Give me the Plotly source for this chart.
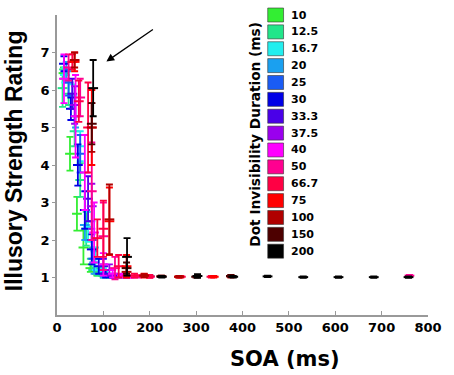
import plotly.graph_objects as go

# ---- data (approximate) ----
durations = ["10", "12.5", "16.7", "20", "25", "30", "33.3", "37.5", "40", "50", "66.7", "75", "100", "150", "200"]
colors = ["#33ee33", "#22e68a", "#22eeee", "#1aa0f0", "#1a5cf5", "#0000e6", "#4a00e8", "#9a00ee",
          "#ff00ff", "#ff0090", "#ff0044", "#ff0000", "#b00000", "#4d0000", "#000000"]

soa_10 = [14, 28, 43, 57, 72, 86, 100]
mean_10 = [6.45, 4.3, 2.7, 1.8, 1.25, 1.1, 1.05]
err_10 = [0.15, 0.45, 0.45, 0.45, 0.1, 0.05, 0.04]

soa_12_5 = [12, 25, 38, 50, 63, 75, 88, 100, 113]
mean_12_5 = [6.05, 5.9, 4.9, 3.6, 2.3, 1.5, 1.15, 1.05, 1.02]
err_12_5 = [0.5, 0.3, 0.4, 0.45, 0.45, 0.3, 0.1, 0.05, 0.03]

soa_16_7 = [17, 33, 50, 67, 83, 100, 117, 133, 200]
mean_16_7 = [6.4, 5.85, 4.5, 2.35, 1.5, 1.15, 1.05, 1.03, 1.04]
err_16_7 = [0.2, 0.3, 0.4, 0.4, 0.3, 0.1, 0.05, 0.03, 0.03]

soa_20 = [20, 40, 60, 80, 100, 120, 140]
mean_20 = [6.5, 5.3, 2.4, 1.4, 1.1, 1.04, 1.02]
err_20 = [0.25, 0.3, 0.4, 0.3, 0.1, 0.04, 0.03]

soa_25 = [25, 50, 75, 100, 125, 150]
mean_25 = [6.2, 4.3, 2.0, 1.2, 1.05, 1.02]
err_25 = [0.35, 0.5, 0.5, 0.15, 0.05, 0.03]

soa_30 = [15, 30, 45, 60, 75, 90, 105, 120]
mean_30 = [6.7, 5.5, 4.0, 2.8, 1.75, 1.3, 1.1, 1.03]
err_30 = [0.2, 0.3, 0.55, 0.5, 0.4, 0.2, 0.1, 0.03]

soa_33_3 = [33, 67, 100, 133]
mean_33_3 = [5.9, 3.1, 1.3, 1.05]
err_33_3 = [0.4, 0.6, 0.2, 0.04]

soa_37_5 = [38, 75, 113, 150]
mean_37_5 = [5.6, 2.9, 1.2, 1.03]
err_37_5 = [0.5, 0.6, 0.15, 0.03]

soa_40 = [15, 40, 60, 80, 100, 120, 140, 160]
mean_40 = [6.3, 5.3, 3.8, 2.2, 1.35, 1.1, 1.05, 1.02]
err_40 = [0.65, 1.1, 1.0, 0.8, 0.3, 0.1, 0.05, 0.03]

soa_50 = [25, 50, 75, 100, 125, 150, 175, 200, 760]
mean_50 = [6.6, 5.8, 3.3, 2.1, 1.25, 1.05, 1.03, 1.02, 1.05]
err_50 = [0.35, 0.5, 1.3, 0.9, 0.3, 0.05, 0.03, 0.02, 0.02]

soa_66_7 = [33, 47, 67, 87, 100, 133, 167, 200, 267, 333]
mean_66_7 = [6.75, 5.7, 5.0, 2.05, 2.3, 1.3, 1.05, 1.03, 1.02, 1.02]
err_66_7 = [0.2, 0.55, 1.2, 0.5, 0.75, 0.3, 0.05, 0.04, 0.02, 0.02]

soa_75 = [38, 75, 113, 150, 188, 263, 338]
mean_75 = [6.75, 5.0, 2.5, 1.3, 1.05, 1.02, 1.02]
err_75 = [0.25, 1.0, 0.9, 0.3, 0.05, 0.02, 0.02]

soa_100 = [38, 75, 113, 150, 188, 225, 263, 375]
mean_100 = [6.8, 5.0, 2.55, 1.15, 1.05, 1.03, 1.02, 1.03]
err_100 = [0.2, 0.65, 0.93, 0.1, 0.04, 0.02, 0.02, 0.03]

soa_150 = [75, 150, 225, 300, 375]
mean_150 = [5.1, 1.25, 1.03, 1.02, 1.04]
err_150 = [0.55, 0.15, 0.02, 0.02, 0.03]

soa_200 = [78, 151, 226, 303, 380, 454, 531, 607, 683, 758]
mean_200 = [6.05, 1.55, 1.02, 1.04, 1.02, 1.03, 1.01, 1.01, 1.01, 1.01]
err_200 = [0.75, 0.5, 0.02, 0.05, 0.02, 0.02, 0.02, 0.02, 0.02, 0.02]

x_ticks = [0, 100, 200, 300, 400, 500, 600, 700, 800]
y_ticks = [1, 2, 3, 4, 5, 6, 7]

series = [
    (soa_10, mean_10, err_10), (soa_12_5, mean_12_5, err_12_5), (soa_16_7, mean_16_7, err_16_7),
    (soa_20, mean_20, err_20), (soa_25, mean_25, err_25), (soa_30, mean_30, err_30),
    (soa_33_3, mean_33_3, err_33_3), (soa_37_5, mean_37_5, err_37_5), (soa_40, mean_40, err_40),
    (soa_50, mean_50, err_50), (soa_66_7, mean_66_7, err_66_7), (soa_75, mean_75, err_75),
    (soa_100, mean_100, err_100), (soa_150, mean_150, err_150), (soa_200, mean_200, err_200),
]

fig = go.Figure()
for name, col, (xs, ms, es) in zip(durations, colors, series):
    fig.add_trace(go.Scatter(
        x=xs, y=ms, mode="markers", name=name, showlegend=False,
        marker=dict(symbol="line-ew", size=7, color=col, line=dict(color=col, width=2)),
        error_y=dict(type="data", array=es, symmetric=True, color=col, thickness=1.8, width=3.5),
    ))

# ---- layout geometry (body margin removed by post_script) ----
W, H = 454, 375
PL, PR, PT, PB = 57, 432, 15, 315.5          # plot area in screen pixels
pw, ph = PR - PL, PB - PT

def px_to_paper(px, py):
    return (px - PL) / pw, 1 - (py - PT) / ph

tick_font = dict(family="DejaVu Sans", size=13, color="black")
shapes = []
annotations = []
row0, dy = 15, 16.9
for i, (name, col) in enumerate(zip(durations, colors)):
    cy = row0 + i * dy
    x0, y0 = px_to_paper(270, cy - 7)
    x1, y1 = px_to_paper(286, cy + 7)
    shapes.append(dict(type="rect", xref="paper", yref="paper", x0=x0, x1=x1, y0=y1, y1=y0,
                       fillcolor=col, line=dict(color="#333333", width=0.6)))
    lx, ly = px_to_paper(292, cy)
    annotations.append(dict(xref="paper", yref="paper", x=lx, y=ly, xanchor="left", yanchor="middle",
                            text="<b>%s</b>" % name, showarrow=False,
                            font=dict(family="DejaVu Sans", size=11, color="black")))

tx, ty = px_to_paper(257, 134)
annotations.append(dict(xref="paper", yref="paper", x=tx, y=ty, xanchor="center", yanchor="middle",
                        text="<b>Dot Invisibility Duration (ms)</b>", textangle=-90, showarrow=False,
                        font=dict(family="DejaVu Sans", size=13.7, color="black")))

# axis titles
sx, sy = px_to_paper(287, 360)
annotations.append(dict(xref="paper", yref="paper", x=sx, y=sy, xanchor="center", yanchor="middle",
                        text="<b>SOA (ms)</b>", showarrow=False,
                        font=dict(family="DejaVu Sans", size=21, color="black")))
yx, yy = px_to_paper(13, 161)
annotations.append(dict(xref="paper", yref="paper", x=yx, y=yy, xanchor="center", yanchor="middle",
                        text="<b>Illusory Strength Rating</b>", textangle=-90, showarrow=False,
                        font=dict(family="Liberation Sans", size=23, color="black")))

# arrow
annotations.append(dict(x=106.5, y=6.76, xref="x", yref="y", text="", showarrow=True,
                        arrowhead=2, arrowsize=1.2, arrowwidth=1.3, arrowcolor="black",
                        ax=48, ay=-33))

fig.update_layout(
    width=W, height=H,
    margin=dict(l=PL, r=W - PR, t=PT, b=H - PB),
    plot_bgcolor="white", paper_bgcolor="white",
    shapes=shapes, annotations=annotations,
    xaxis=dict(range=[0, 800], tickvals=x_ticks, ticktext=["<b>%d</b>" % v for v in x_ticks],
               showgrid=False, zeroline=False, showline=True, linecolor="#999999", linewidth=1.5,
               ticks="inside", ticklen=4, tickcolor="#999999", tickfont=tick_font),
    yaxis=dict(range=[0, 8], tickvals=y_ticks, ticktext=["<b>%d</b>" % v for v in y_ticks],
               showgrid=False, zeroline=False, showline=True, linecolor="#999999", linewidth=1.5,
               ticks="outside", ticklen=3, tickcolor="#999999", tickfont=tick_font),
)

fig.write_html("out.html", config={"displayModeBar": False},
               post_script="document.body.style.margin='0';document.body.style.overflow='hidden';")
